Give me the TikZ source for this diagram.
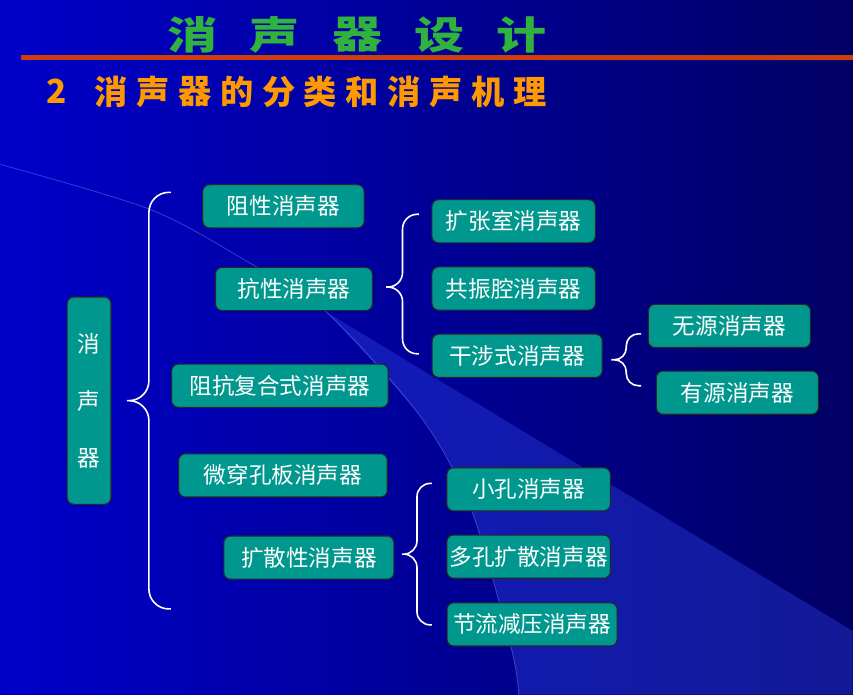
\documentclass[tikz,border=0pt]{standalone}
\usepackage{fontspec}
\setmainfont{Noto Sans CJK SC}
\usetikzlibrary{calc}

\definecolor{bgleft}{RGB}{0,0,202}
\definecolor{bgright}{RGB}{0,0,100}
\definecolor{wedgecol}{RGB}{45,65,225}
\definecolor{boxfill}{RGB}{0,152,142}
\definecolor{rulecol}{RGB}{205,62,12}
\definecolor{titlegreen}{RGB}{48,178,62}
\definecolor{suborange}{RGB}{255,153,0}

\tikzstyle{box}=[draw=black!85, line width=0.8pt, fill=boxfill, text=white, rounded corners=5pt, inner sep=0pt, minimum height=32.5pt, font=\fontsize{17}{20}\selectfont]
\tikzstyle{title}=[text=titlegreen, inner sep=0pt, xscale=1.3, font=\fontsize{29}{30}\selectfont\bfseries]
\tikzstyle{subtitle}=[text=suborange, inner sep=0pt, font=\fontsize{25}{27}\selectfont\bfseries]
\tikzset{brace/.style={draw=white, line width=1.2pt, rounded corners=#1,
  to path={let \p1=(\tikztostart), \p2=(\tikztotarget) in
    -- ({0.5*(\x1+\x2)},\y1) -- ({0.5*(\x1+\x2)},\y2) -- (\p2)}}}

\begin{document}
\begin{tikzpicture}[x=0.75pt,y=-0.75pt]
    % background
    \fill[left color=bgleft, right color=bgright] (0,0) rectangle (855,697);
    \fill[wedgecol, opacity=0.4] (327,313) -- (855,633) -- (855,697) -- (520,697)
      -- plot[smooth] coordinates {(520,697) (513,652) (473,513) (423,420) (327,313)} -- cycle;
    \draw[wedgecol!70!white, opacity=0.5, line width=0.6pt] plot[smooth] coordinates
      {(0,165) (150,210) (247,262) (327,313) (423,420) (473,513) (513,652) (520,697)};

    % headings
    \foreach \c [count=\i] in {消,声,器,设,计}
      \node[title] (t\i) at ({193+82.5*(\i-1)},35) {\c};
    \draw[rulecol, line width=3.75pt] (21,57.5) -- (855,57.5);
    \node[subtitle] (s0) at (56,92) {2};
    \foreach \c [count=\i] in {消,声,器,的,分,类,和,消,声,机,理}
      \node[subtitle] (s\i) at ({111+42.05*(\i-1)},92) {\c};

    % boxes
    \node[box, minimum width=33pt, minimum height=156pt, align=center] (n1) at (89,402) {消\\[23pt]声\\[23pt]器};
    \node[box, minimum width=121.5pt] (n2) at (284,207) {阻性消声器};
    \node[box, minimum width=118pt] (n3) at (294.5,290) {抗性消声器};
    \node[box, minimum width=163pt] (n4) at (280.5,387) {阻抗复合式消声器};
    \node[box, minimum width=157pt] (n5) at (283.5,477) {微穿孔板消声器};
    \node[box, minimum width=128pt] (n6) at (309.5,559.5) {扩散性消声器};
    \node[box, minimum width=123pt] (n7) at (515,222) {扩张室消声器};
    \node[box, minimum width=123pt] (n8) at (515,289.5) {共振腔消声器};
    \node[box, minimum width=128pt] (n9) at (518.5,357) {干涉式消声器};
    \node[box, minimum width=122pt] (n10) at (731.5,327) {无源消声器};
    \node[box, minimum width=122pt] (n11) at (739.5,394) {有源消声器};
    \node[box, minimum width=123pt] (n12) at (530,491) {小孔消声器};
    \node[box, minimum width=123pt] (n13) at (530,558.5) {多孔扩散消声器};
    \node[box, minimum width=128pt] (n14) at (533.5,626.5) {节流减压消声器};

    % braces
    \coordinate (b1) at (127,402);
    \coordinate (e1) at (171,193);
    \coordinate (e2) at (171,611);
    \coordinate (b2) at (387,288);
    \coordinate (e3) at (420,215);
    \coordinate (e4) at (420,355);
    \coordinate (b3) at (613,361);
    \coordinate (e5) at (643,335);
    \coordinate (e6) at (643,387);
    \coordinate (b4) at (403,556);
    \coordinate (e7) at (433,485);
    \coordinate (e8) at (433,627);
    \path[brace=15pt] (b1) to (e1) (b1) to (e2);
    \path[brace=11pt] (b2) to (e3) (b2) to (e4);
    \path[brace=9pt] (b3) to (e5) (b3) to (e6);
    \path[brace=10pt] (b4) to (e7) (b4) to (e8);
\end{tikzpicture}
\end{document}
